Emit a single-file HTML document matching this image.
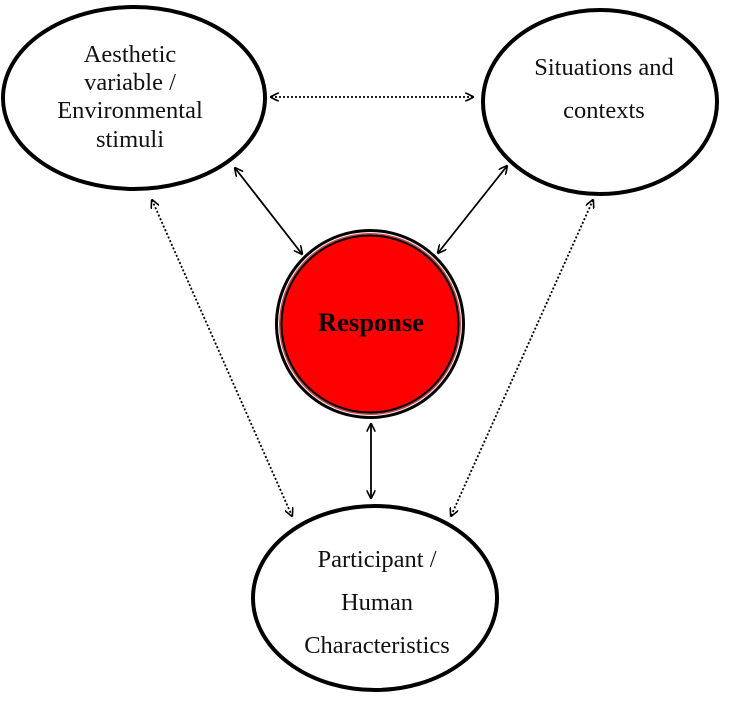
<!DOCTYPE html>
<html><head><style>html,body{margin:0;padding:0;background:#fff}</style></head><body>
<svg width="729" height="697" viewBox="0 0 729 697" xmlns="http://www.w3.org/2000/svg" font-family="Liberation Serif, serif">
<defs>
<marker id="a" viewBox="0 0 10 10" refX="9" refY="5" markerWidth="9" markerHeight="9" orient="auto-start-reverse" markerUnits="userSpaceOnUse">
<path d="M0,0 L10,5 L0,10" fill="none" stroke="#000" stroke-width="1.8"/>
</marker>
</defs>
<g fill="none" stroke="#000" stroke-width="4">
<ellipse cx="134" cy="98" rx="131" ry="91"/>
<ellipse cx="600" cy="102" rx="117" ry="92"/>
<ellipse cx="375" cy="598" rx="122" ry="92"/>
</g>
<circle cx="370" cy="324" r="95" fill="#000"/>
<circle cx="370" cy="324" r="92" fill="#fff"/>
<circle cx="370" cy="324" r="91" fill="#c44"/>
<circle cx="370" cy="324" r="89.5" fill="#000"/>
<circle cx="370" cy="324" r="87.5" fill="#f00"/>
<text x="371" y="331" text-anchor="middle" font-size="26.5" font-weight="bold">Response</text>
<g font-size="24.5" text-anchor="middle" fill="#111">
<text x="130" y="62">Aesthetic</text>
<text x="130" y="90">variable /</text>
<text x="130" y="118">Environmental</text>
<text x="130" y="147">stimuli</text>
<text x="604" y="75">Situations and</text>
<text x="604" y="118">contexts</text>
<text x="377" y="567">Participant /</text>
<text x="377" y="610">Human</text>
<text x="377" y="653">Characteristics</text>
</g>
<g stroke="#000" stroke-width="1.8" marker-start="url(#a)" marker-end="url(#a)">
<line x1="271" y1="97" x2="473" y2="97" stroke-dasharray="2,2"/>
<line x1="235" y1="168" x2="302" y2="254"/>
<line x1="507" y1="166" x2="438" y2="253"/>
<line x1="371" y1="424" x2="371" y2="498"/>
<line x1="152" y1="200" x2="292" y2="516" stroke-dasharray="2,2"/>
<line x1="593" y1="200" x2="451" y2="516" stroke-dasharray="2,2"/>
</g>
</svg>
</body></html>
